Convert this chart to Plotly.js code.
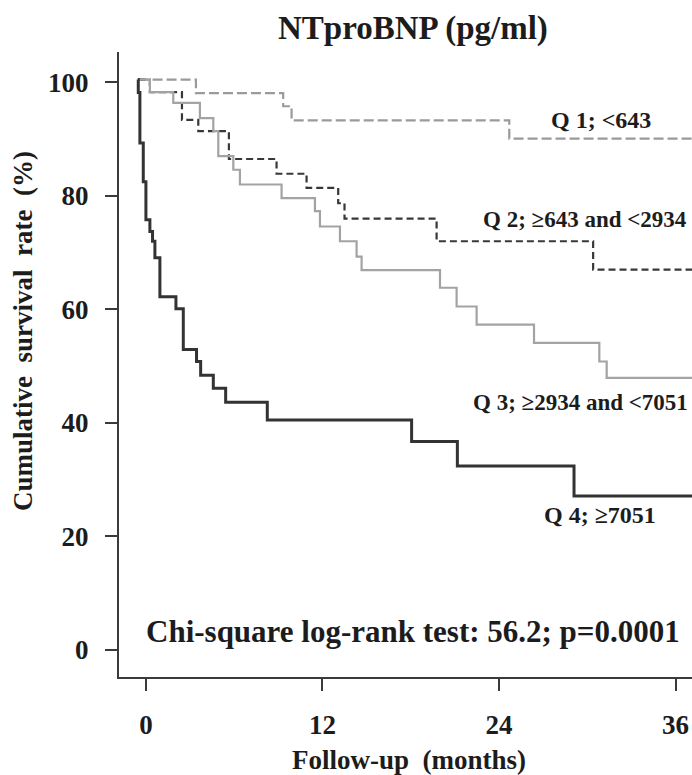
<!DOCTYPE html>
<html><head><meta charset="utf-8">
<script src="https://cdn.plot.ly/plotly-3.0.1.min.js"></script>
<style>html,body{margin:0;padding:0;background:#fff}#chart{width:692px;height:775px}</style>
</head><body><div id="chart"></div>
<script>
// Kaplan-Meier step data (months, survival %)
const q1Time = [-0.5, 3.4, 9.33, 9.9, 24.7, 37.2];
const q1Surv = [100.5, 98.1, 95.8, 93.3, 90.1, 90.1];

const q2Time = [-0.5, 0.27, 2.45, 3.56, 5.64, 8.88, 10.92, 13.07, 13.5, 19.76, 30.4, 37.2];
const q2Surv = [100.5, 98.3, 93.4, 91.4, 86.5, 83.9, 81.4, 78.7, 76.0, 72.0, 67.0, 67.0];

const q3Time = [-0.5, 0.27, 1.86, 3.67, 4.58, 4.92, 5.94, 6.39, 9.22, 11.49, 11.83, 13.19, 14.32, 14.66, 19.99, 21.12, 22.48, 26.38, 30.82, 31.32, 37.2];
const q3Surv = [100.5, 98.3, 96.4, 93.7, 91.4, 87.0, 84.6, 82.0, 79.6, 77.3, 74.6, 72.0, 69.3, 66.9, 63.8, 60.5, 57.3, 54.1, 50.8, 47.9, 47.9];

const q4Time = [-0.55, -0.52, -0.41, -0.18, 0.00, 0.27, 0.45, 0.61, 0.95, 2.04, 2.54, 3.44, 3.72, 4.58, 5.42, 8.25, 18.06, 21.17, 29.10, 37.2];
const q4Surv = [100.5, 98.2, 89.3, 82.5, 75.8, 73.7, 72.0, 69.1, 62.2, 60.1, 52.9, 50.8, 48.4, 46.1, 43.6, 40.5, 36.7, 32.4, 27.1, 27.1];

const xTicks = [0, 12, 24, 36];
const yTicks = [0, 20, 40, 60, 80, 100];

const groupLabels = ["Q 1; <643", "Q 2; \u2265643 and <2934", "Q 3; \u22652934 and <7051", "Q 4; \u22657051"];
const titleText = "NTproBNP (pg/ml)";
const xTitle = "Follow-up&nbsp;&nbsp;(months)";
const yTitle = "Cumulative&nbsp;&nbsp;survival&nbsp;&nbsp;rate&nbsp;&nbsp;(%)";
const statText = "Chi-square log-rank test: 56.2; p=0.0001";

const FONT = "'Liberation Serif', 'Times New Roman', serif";
const TXT = "#1c1c1c";

const traces = [
  {x: q1Time, y: q1Surv, mode: "lines", line: {shape: "hv", color: "#9a9a9a", width: 2.2, dash: "10px,4px"}},
  {x: q2Time, y: q2Surv, mode: "lines", line: {shape: "hv", color: "#383838", width: 2.2, dash: "7px,4px"}},
  {x: q3Time, y: q3Surv, mode: "lines", line: {shape: "hv", color: "#a3a3a3", width: 2.2}},
  {x: q4Time, y: q4Surv, mode: "lines", line: {shape: "hv", color: "#333333", width: 3}}
];

const layout = {
  width: 692, height: 775,
  margin: {l: 119, r: 0, t: 52, b: 98, pad: 0},
  paper_bgcolor: "#fff", plot_bgcolor: "#fff",
  showlegend: false,
  font: {family: FONT, color: TXT},
  xaxis: {
    range: [-1.83, 37.12], tickvals: xTicks, ticktext: xTicks.map(String),
    showgrid: false, zeroline: false, showline: true, linecolor: "#3a3a3a", linewidth: 2,
    ticks: "outside", ticklen: 12, tickwidth: 2, tickcolor: "#3a3a3a",
    ticklabelstandoff: 11,
    tickfont: {family: FONT, size: 27, color: TXT, weight: "bold"}
  },
  yaxis: {
    range: [-4.81, 105.36], tickvals: yTicks, ticktext: yTicks.map(String),
    showgrid: false, zeroline: false, showline: true, linecolor: "#3a3a3a", linewidth: 2,
    ticks: "outside", ticklen: 12, tickwidth: 2, tickcolor: "#3a3a3a",
    ticklabelstandoff: 11,
    tickfont: {family: FONT, size: 27, color: TXT, weight: "bold"}
  },
  annotations: [
    {xref: "paper", yref: "paper", x: (413 - 119) / 573, y: 1, yshift: 52 - 28, xanchor: "center", yanchor: "middle",
     text: "<b>" + titleText + "</b>", showarrow: false, font: {family: FONT, size: 33, color: TXT}},
    {xref: "paper", yref: "paper", x: (409 - 119) / 573, y: 0, yshift: -(760 - 677), xanchor: "center", yanchor: "middle",
     text: "<b>" + xTitle + "</b>", showarrow: false, font: {family: FONT, size: 27, color: TXT}},
    {xref: "paper", yref: "paper", x: 0, xshift: 23 - 119, y: (677 - 331) / 625, xanchor: "center", yanchor: "middle", textangle: -90,
     text: "<b>" + yTitle + "</b>", showarrow: false, font: {family: FONT, size: 27, color: TXT}},
    {xref: "x", yref: "y", x: 30.9, y: 93.4, xanchor: "center", yanchor: "middle", text: "<b>" + groupLabels[0] + "</b>",
     showarrow: false, font: {family: FONT, size: 24, color: TXT}},
    {xref: "x", yref: "y", x: 22.8, y: 75.8, xanchor: "left", yanchor: "middle", text: "<b>" + groupLabels[1] + "</b>",
     showarrow: false, font: {family: FONT, size: 23, color: TXT}},
    {xref: "x", yref: "y", x: 22.1, y: 43.5, xanchor: "left", yanchor: "middle", text: "<b>" + groupLabels[2] + "</b>",
     showarrow: false, font: {family: FONT, size: 23, color: TXT}},
    {xref: "x", yref: "y", x: 26.9, y: 23.8, xanchor: "left", yanchor: "middle", text: "<b>" + groupLabels[3] + "</b>",
     showarrow: false, font: {family: FONT, size: 24, color: TXT}},
    {xref: "x", yref: "y", x: 18.15, y: 3.2, xanchor: "center", yanchor: "middle", text: "<b>" + statText + "</b>",
     showarrow: false, font: {family: FONT, size: 31, color: TXT}}
  ]
};

Plotly.newPlot("chart", traces, layout, {staticPlot: true, displayModeBar: false});
</script></body></html>
